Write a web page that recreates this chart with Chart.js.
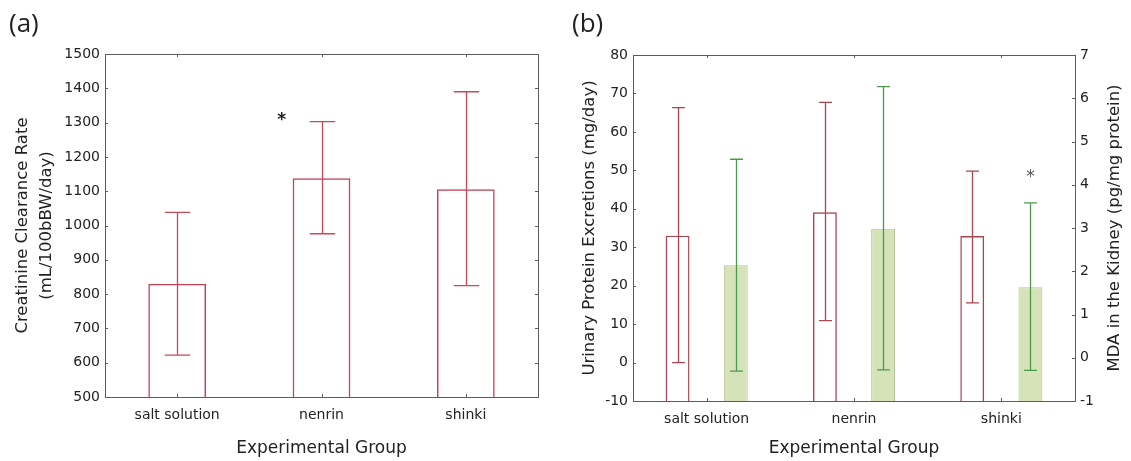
<!DOCTYPE html>
<html>
<head>
<meta charset="utf-8">
<script src="https://cdn.jsdelivr.net/npm/chart.js@4.4.0/dist/chart.umd.min.js"></script>
<style>
    body { margin: 0; background: #fff; width: 1131px; height: 461px; overflow: hidden; position: relative; }
    .panel { position: absolute; top: 0; height: 461px; }
    #wrap_a { left: 0; width: 560px; }
    #wrap_b { left: 560px; width: 571px; }
    .etiqueta { position: absolute; top: 4px; font-size: 26px; color: #222; font-family: "Open Sans", sans-serif; z-index: 2; }
</style>
</head>
<body>
<div class="etiqueta" style="left:9px">(a)</div>
<div class="etiqueta" style="left:572px">(b)</div>
<div class="panel" id="wrap_a"><canvas id="id_grafica_a" width="560" height="461"></canvas></div>
<div class="panel" id="wrap_b"><canvas id="id_grafica_b" width="571" height="461"></canvas></div>
<script>
//------------------------DATOS-------------------------------------------------
const grupos = ['salt solution', 'nenrin', 'shinki'];

// (a) creatinine clearance
const ccr_media = [830, 1138, 1106];
const ccr_min = [622, 976, 825];
const ccr_max = [1038, 1303, 1390];
const ccr_ticks = [500, 1500, 100]; // min, max, paso
const ccr_asteriscos = [{ grupo: 1, valor: 1317 }];

// (b) proteina urinaria (eje izq) y MDA (eje der)
const prot_media = [33.0, 39.1, 32.9];
const prot_min = [0, 10.9, 15.5];
const prot_max = [66.3, 67.7, 49.8];
const prot_ticks = [-10, 80, 10];
const mda_media = [2.14, 2.98, 1.63];
const mda_min = [-0.31, -0.28, -0.29];
const mda_max = [4.59, 6.27, 3.58];
const mda_ticks = [-1, 7, 1];
const mda_asteriscos = [{ grupo: 2, valor: 4.26 }];

const titulo_x = 'Experimental Group';
const titulo_ccr = ['Creatinine Clearance Rate', '(mL/100bBW/day)'];
const titulo_prot = 'Urinary Protein Excretions (mg/day)';
const titulo_mda = 'MDA in the Kidney (pg/mg protein)';

const fuente = '"DejaVu Sans", sans-serif';
const color_texto = '#222';

//------------------------PLUGINS---------------------------
// barras de error con los valores de cada dataset
const barrasError = {
    id: 'barrasError',
    afterDatasetsDraw(chart) {
        const ctx = chart.ctx;
        chart.data.datasets.forEach((ds, i) => {
            if (!ds.errMin) return;
            const meta = chart.getDatasetMeta(i);
            const escala = chart.scales[meta.yAxisID];
            ctx.save();
            ctx.strokeStyle = ds.errColor;
            ctx.lineWidth = 1.3;
            meta.data.forEach((barra, j) => {
                const x = Math.round(barra.x) + 0.5;
                const y1 = escala.getPixelForValue(ds.errMin[j]);
                const y2 = escala.getPixelForValue(ds.errMax[j]);
                const cap = barra.width * ds.errCap;
                ctx.beginPath();
                ctx.moveTo(x, y1); ctx.lineTo(x, y2);
                ctx.moveTo(x - cap, y1); ctx.lineTo(x + cap, y1);
                ctx.moveTo(x - cap, y2); ctx.lineTo(x + cap, y2);
                ctx.stroke();
            });
            ctx.restore();
        });
    }
};

// marco del area y marcas de ticks hacia adentro
const marco = {
    id: 'marco',
    afterDraw(chart, args, opts) {
        const { ctx, chartArea: a } = chart;
        const largo = 3;
        ctx.save();
        ctx.strokeStyle = '#5c5c5c';
        ctx.lineWidth = 1;
        ctx.strokeRect(Math.round(a.left) + 0.5, Math.round(a.top) + 0.5, Math.round(a.right - a.left), Math.round(a.bottom - a.top));
        ctx.beginPath();
        Object.values(chart.scales).forEach(sc => {
            sc.ticks.forEach((t, i) => {
                const p = Math.round(sc.getPixelForTick(i)) + 0.5;
                if (sc.axis === 'x') {
                    ctx.moveTo(p, a.bottom); ctx.lineTo(p, a.bottom - largo);
                    ctx.moveTo(p, a.top); ctx.lineTo(p, a.top + largo);
                } else {
                    if (sc.position === 'left') { ctx.moveTo(a.left, p); ctx.lineTo(a.left + largo, p); }
                    if (sc.position === 'right' || opts.espejo) { ctx.moveTo(a.right, p); ctx.lineTo(a.right - largo, p); }
                }
            });
        });
        ctx.stroke();
        ctx.restore();
    }
};

// asteriscos de significancia
const asterisco = {
    id: 'asterisco',
    afterDatasetsDraw(chart, args, opts) {
        if (!opts.marcas) return;
        const ctx = chart.ctx;
        const meta = chart.getDatasetMeta(opts.dataset);
        const escala = chart.scales[meta.yAxisID];
        ctx.save();
        ctx.fillStyle = opts.color;
        ctx.font = opts.font;
        ctx.textAlign = 'center';
        ctx.textBaseline = 'middle';
        opts.marcas.forEach(m => {
            const barra = meta.data[m.grupo];
            const x = opts.lado === 'izq' ? barra.x - barra.width / 2 - 11 : barra.x;
            ctx.fillText('*', x, escala.getPixelForValue(m.valor) + 4);
        });
        ctx.restore();
    }
};

// titulo del eje derecho leido de abajo hacia arriba
const tituloDerecho = {
    id: 'tituloDerecho',
    afterDraw(chart, args, opts) {
        if (!opts.texto) return;
        const { ctx, chartArea: a } = chart;
        ctx.save();
        ctx.translate(a.right + opts.dist, (a.top + a.bottom) / 2);
        ctx.rotate(-Math.PI / 2);
        ctx.fillStyle = color_texto;
        ctx.font = '16.5px ' + fuente;
        ctx.textAlign = 'center';
        ctx.textBaseline = 'middle';
        ctx.fillText(opts.texto, 0, 0);
        ctx.restore();
    }
};

const ejeX = (alto) => ({
    type: 'category',
    grid: { display: false, drawTicks: false },
    border: { display: false },
    ticks: { color: color_texto, font: { family: fuente, size: 14 }, padding: 10 },
    title: { display: true, text: titulo_x, color: color_texto, font: { family: fuente, size: 17 }, padding: { top: 0, bottom: 2 } },
    afterFit: (sc) => { sc.height = alto; }
});

const ejeY = (lim, pos, ancho, titulo, padTitulo) => ({
    type: 'linear',
    position: pos,
    min: lim[0],
    max: lim[1],
    grid: { display: false, drawTicks: false },
    border: { display: false },
    ticks: {
        stepSize: lim[2],
        color: color_texto,
        font: { family: fuente, size: 14 },
        padding: 5,
        callback: (v) => String(v)
    },
    title: titulo ? { display: true, text: titulo, color: color_texto, font: { family: fuente, size: 16.5, lineHeight: 1.5 }, padding: { top: padTitulo, bottom: 0 } } : { display: false },
    afterFit: (sc) => { sc.width = ancho; }
});

//------------------------GRAFICA (a)---------------------------
let ctx1 = document.getElementById('id_grafica_a').getContext('2d');
let chart1 = new Chart(ctx1, {
    type: 'bar',
    data: {
        labels: grupos,
        datasets: [{
            data: ccr_media,
            yAxisID: 'y',
            base: ccr_ticks[0],
            backgroundColor: 'rgba(255,255,255,0)',
            borderColor: '#c2445a',
            borderWidth: 1.5,
            categoryPercentage: 0.4,
            barPercentage: 1.0,
            errMin: ccr_min,
            errMax: ccr_max,
            errColor: '#c44a5c',
            errCap: 0.22
        }]
    },
    options: {
        responsive: false,
        animation: false,
        layout: { padding: { top: 54, right: 22, left: 0, bottom: 0 } },
        scales: {
            x: ejeX(64),
            y: ejeY(ccr_ticks, 'left', 105, titulo_ccr, 10)
        },
        plugins: {
            legend: { display: false },
            tooltip: { enabled: false },
            marco: { espejo: true },
            asterisco: { marcas: ccr_asteriscos, dataset: 0, lado: 'izq', color: '#222', font: 'bold 17px ' + fuente }
        }
    },
    plugins: [barrasError, marco, asterisco]
});

//------------------------GRAFICA (b)---------------------------
let ctx2 = document.getElementById('id_grafica_b').getContext('2d');
let chart2 = new Chart(ctx2, {
    type: 'bar',
    data: {
        labels: grupos,
        datasets: [{
            data: prot_media,
            yAxisID: 'yProt',
            base: prot_ticks[0],
            backgroundColor: 'rgba(255,255,255,0)',
            borderColor: '#a8444e',
            borderWidth: 1.4,
            categoryPercentage: 0.79,
            barPercentage: 0.41,
            errMin: prot_min,
            errMax: prot_max,
            errColor: '#a84650',
            errCap: 0.27
        }, {
            data: mda_media,
            yAxisID: 'yMda',
            base: mda_ticks[0],
            backgroundColor: '#d6e2b8',
            borderColor: '#b3c398',
            borderWidth: 1,
            categoryPercentage: 0.79,
            barPercentage: 0.41,
            errMin: mda_min,
            errMax: mda_max,
            errColor: '#4b9a4b',
            errCap: 0.27
        }]
    },
    options: {
        responsive: false,
        animation: false,
        layout: { padding: { top: 55, right: 0, left: 0, bottom: 0 } },
        scales: {
            x: ejeX(60),
            yProt: ejeY(prot_ticks, 'left', 73, titulo_prot, 17),
            yMda: ejeY(mda_ticks, 'right', 56, null, 0)
        },
        plugins: {
            legend: { display: false },
            tooltip: { enabled: false },
            marco: { espejo: false },
            asterisco: { marcas: mda_asteriscos, dataset: 1, lado: 'centro', color: '#555', font: '17px ' + fuente },
            tituloDerecho: { texto: titulo_mda, dist: 40 }
        }
    },
    plugins: [barrasError, marco, asterisco, tituloDerecho]
});
</script>
</body>
</html>
